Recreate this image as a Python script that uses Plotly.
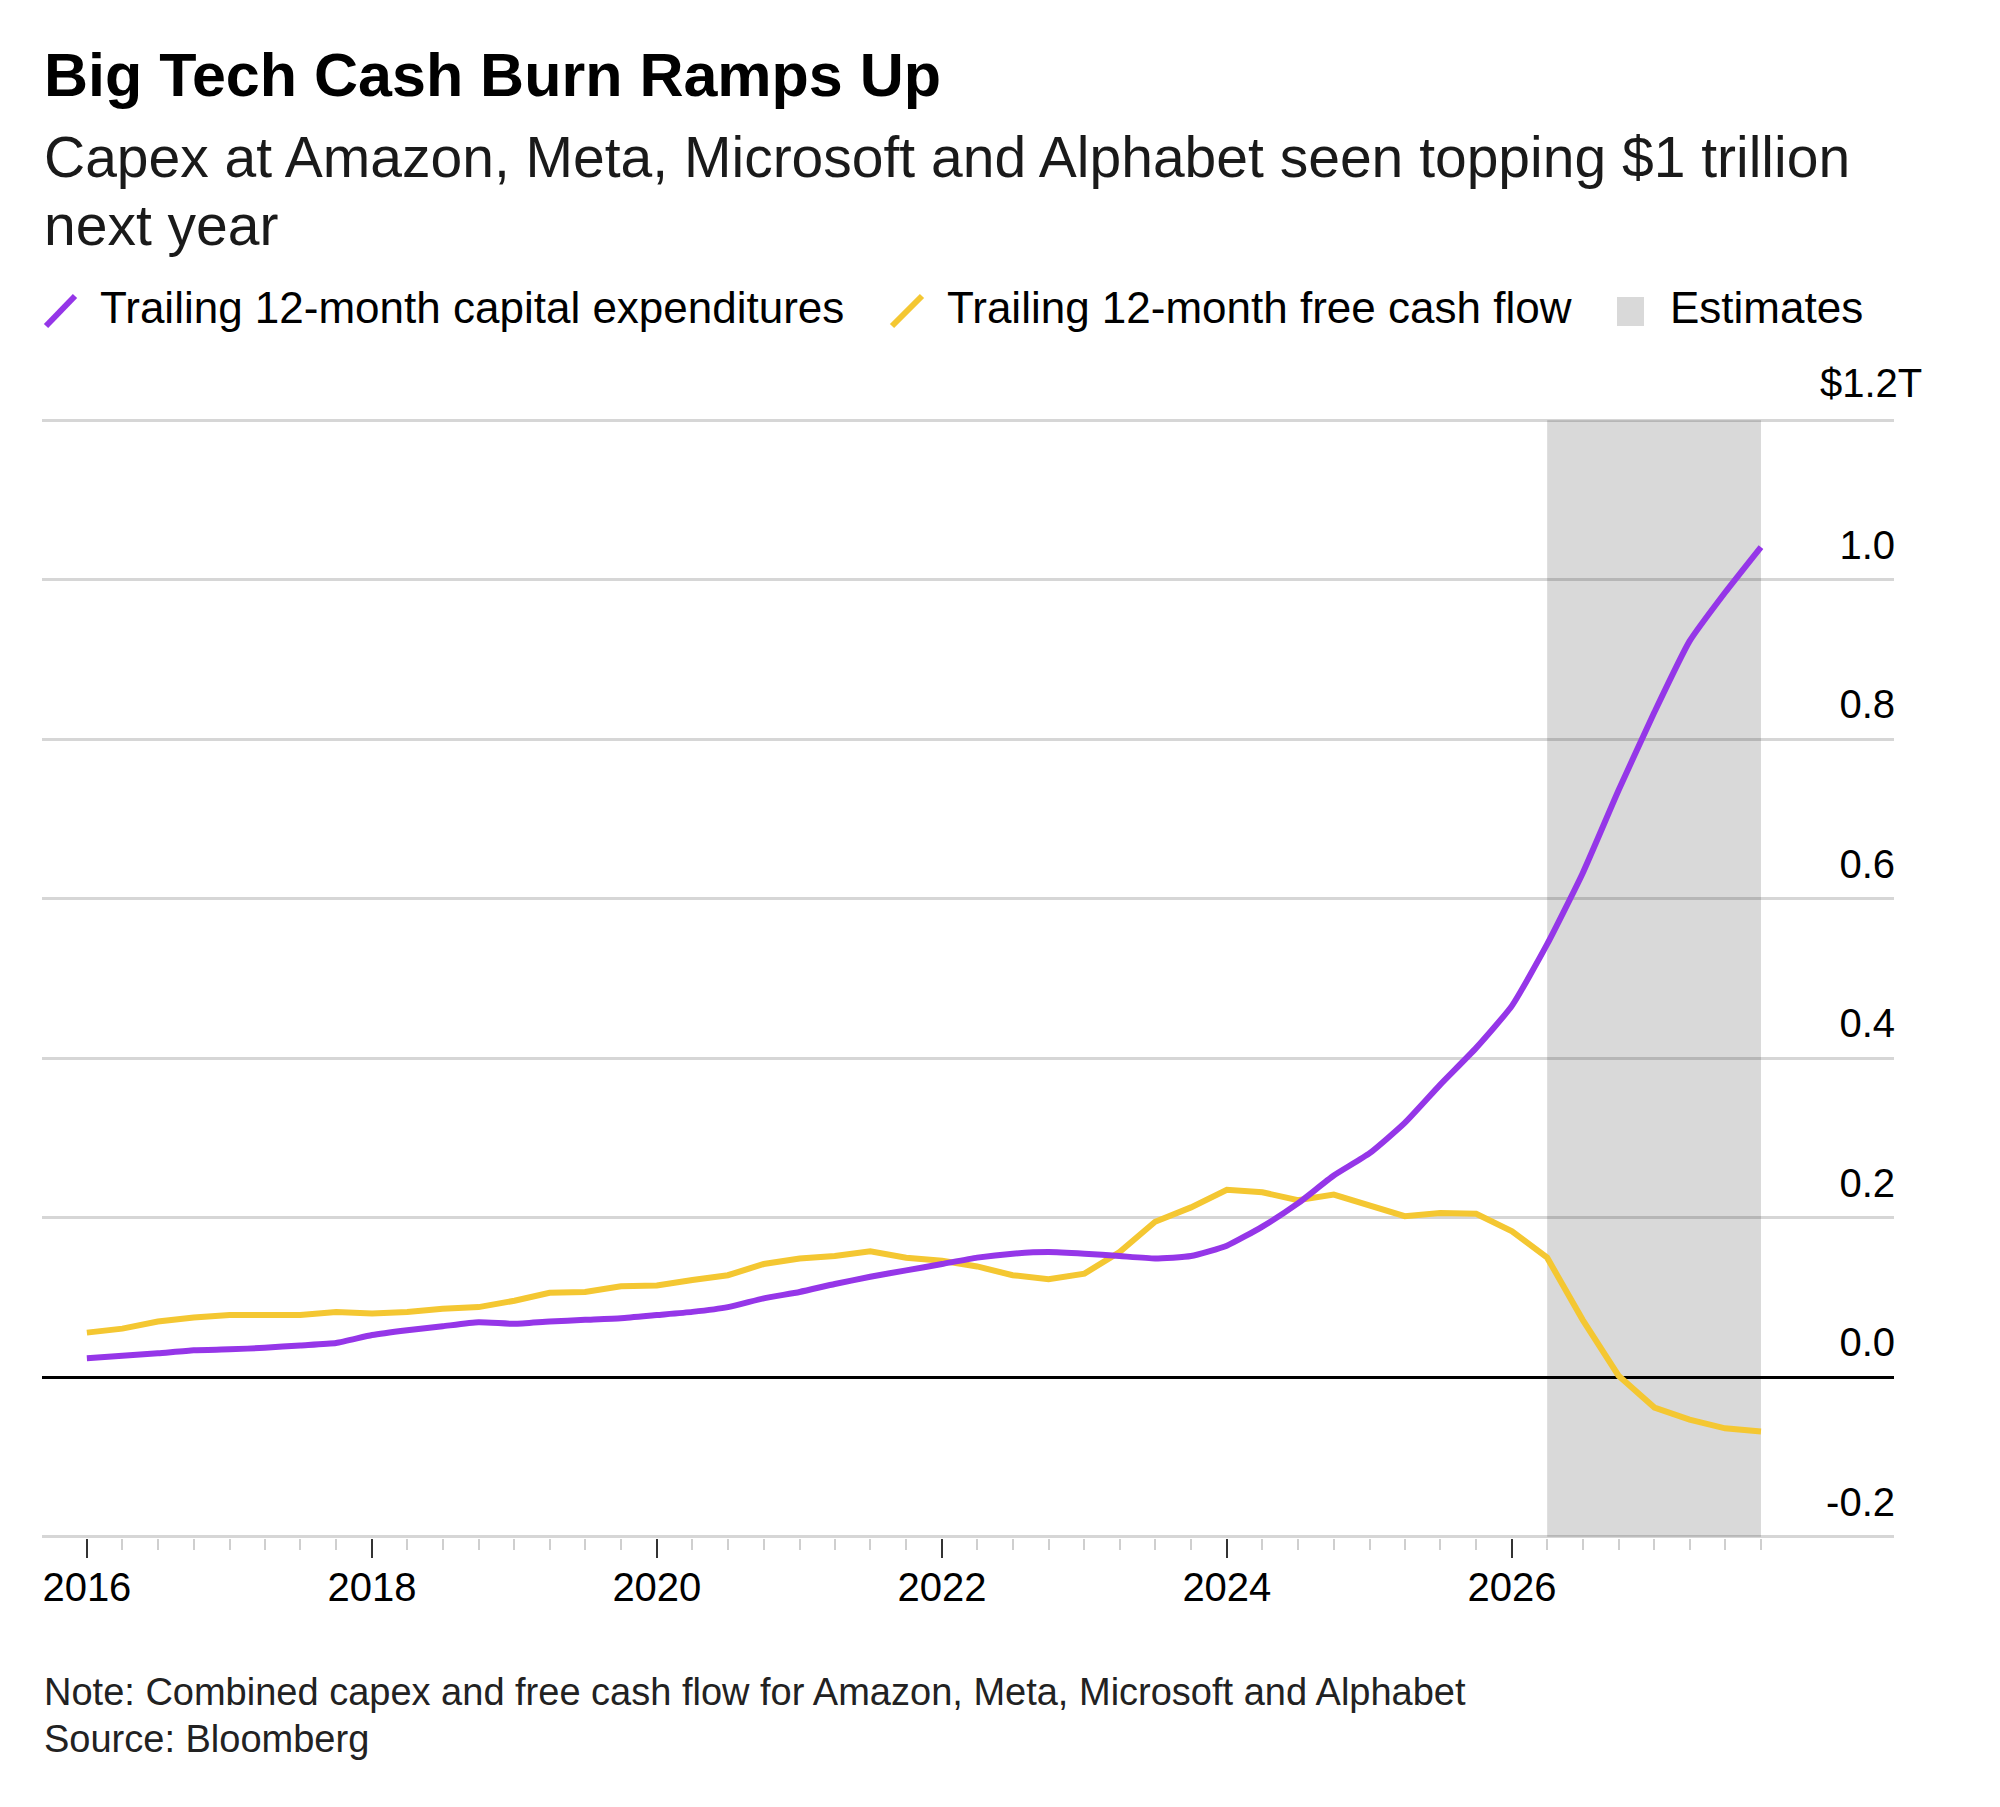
import plotly.graph_objects as go
import pandas as pd

# ---- data (trillions of USD, quarterly, Q1 2016 .. Q4 2027) ----
quarters = pd.date_range("2016-01-01", periods=48, freq="QS")

capex = [0.024, 0.027, 0.030, 0.034, 0.035, 0.037, 0.040, 0.043,
         0.053, 0.059, 0.064, 0.069, 0.067, 0.070, 0.072, 0.074,
         0.078, 0.082, 0.088, 0.099, 0.107, 0.117, 0.126, 0.134,
         0.142, 0.150, 0.155, 0.157, 0.155, 0.152, 0.149, 0.152,
         0.165, 0.189, 0.218, 0.253, 0.281, 0.319, 0.367, 0.413,
         0.466, 0.543, 0.632, 0.736, 0.834, 0.923, 0.984, 1.041]

fcf = [0.056, 0.061, 0.070, 0.075, 0.078, 0.078, 0.078, 0.082,
       0.080, 0.082, 0.086, 0.088, 0.096, 0.106, 0.107, 0.114,
       0.115, 0.122, 0.128, 0.142, 0.149, 0.152, 0.158, 0.150,
       0.146, 0.139, 0.128, 0.123, 0.130, 0.157, 0.195, 0.213,
       0.235, 0.232, 0.222, 0.229, 0.216, 0.202, 0.206, 0.205,
       0.183, 0.150, 0.072, 0.002, -0.038, -0.053, -0.064, -0.068]

est_start, est_end = "2026-04-01", "2027-10-01"

year_ticks = ["2016", "2018", "2020", "2022", "2024", "2026"]
y_ticks = [-0.2, 0.0, 0.2, 0.4, 0.6, 0.8, 1.0, 1.2]
y_labels = ["-0.2", "0.0", "0.2", "0.4", "0.6", "0.8", "1.0", ""]
top_label = "$1.2T"

series_names = ["Trailing 12-month capital expenditures",
                "Trailing 12-month free cash flow",
                "Estimates"]

PURPLE = "#9536e8"
YELLOW = "#f4c732"
SHADE = "#d9d9d9"
GRID = "rgba(0,0,0,0.16)"
FONT = "Liberation Sans, Arial, Helvetica, sans-serif"

W, H = 2000, 1807
L, R, T, B = 42, 106, 419, 269
PW, PH = W - L - R, H - T - B
EPS = 0.0015  # tiny padding so the edge grid lines are drawn in full


def px(x):
    return (x - L) / PW


def py(y):
    return (H - B - y) / PH


fig = go.Figure()
fig.add_trace(go.Scatter(x=quarters, y=fcf, mode="lines", name=series_names[1],
                         line=dict(color=YELLOW, width=6), showlegend=False))
fig.add_trace(go.Scatter(x=quarters, y=capex, mode="lines", name=series_names[0],
                         line=dict(color=PURPLE, width=6, shape="spline", smoothing=0.5),
                         showlegend=False))

# estimates band
fig.add_shape(type="rect", xref="x", yref="y", x0=est_start, x1=est_end,
              y0=y_ticks[0], y1=y_ticks[-1], fillcolor=SHADE, line_width=0, layer="below")

# custom legend
fig.add_shape(type="line", xref="paper", yref="paper", x0=px(46), y0=py(326), x1=px(75), y1=py(296),
              line=dict(color=PURPLE, width=6))
fig.add_shape(type="line", xref="paper", yref="paper", x0=px(892), y0=py(326), x1=px(922), y1=py(296),
              line=dict(color=YELLOW, width=6))
fig.add_shape(type="rect", xref="paper", yref="paper", x0=px(1617), y0=py(326), x1=px(1644), y1=py(297),
              fillcolor=SHADE, line_width=0)

ann = []


def text(x, yc, s, size, bold=False, anchor="left", color="#111111"):
    ann.append(dict(x=px(x), y=py(yc), xref="paper", yref="paper", text=(f"<b>{s}</b>" if bold else s),
                    showarrow=False, xanchor=anchor, yanchor="middle",
                    font=dict(family=FONT, size=size, color=color)))


text(42, 75, "Big Tech Cash Burn Ramps Up", 61, bold=True, color="#000000")
text(42, 157, "Capex at Amazon, Meta, Microsoft and Alphabet seen topping $1 trillion", 57, color="#1a1a1a")
text(42, 225, "next year", 57, color="#1a1a1a")
text(98, 308, series_names[0], 44, color="#000000")
text(945, 308, series_names[1], 44, color="#000000")
text(1668, 308, series_names[2], 44, color="#000000")
text(42, 1692, "Note: Combined capex and free cash flow for Amazon, Meta, Microsoft and Alphabet", 38,
     color="#222222")
text(42, 1739, "Source: Bloomberg", 38, color="#222222")
text(1924, 383, top_label, 40, anchor="right", color="#000000")

fig.update_layout(
    width=W, height=H,
    margin=dict(l=L, r=R, t=T, b=B, pad=0),
    paper_bgcolor="white", plot_bgcolor="white",
    annotations=ann,
    font=dict(family=FONT, size=40, color="#000000"),
    showlegend=False,
    xaxis=dict(
        range=["2015-09-08", "2028-09-06"],
        tickmode="array", tickvals=[f"{y}-01-01" for y in year_ticks], ticktext=year_ticks,
        ticks="outside", ticklen=19, tickwidth=2, tickcolor="#333333",
        ticklabelstandoff=-5,
        tickfont=dict(size=40, color="#000000"),
        showgrid=False, zeroline=False, showline=False,
        minor=dict(tickmode="array", tickvals=list(quarters), ticks="outside", ticklen=11,
                   tickwidth=2, tickcolor="#cfcfcf", showgrid=False),
    ),
    yaxis=dict(
        range=[y_ticks[0] - EPS, y_ticks[-1] + EPS], side="right",
        tickmode="array", tickvals=y_ticks, ticktext=y_labels,
        ticklabelposition="inside", ticklabelshift=-35, ticklabelstandoff=-4,
        ticks="", tickfont=dict(size=40, color="#000000"),
        showgrid=True, gridcolor=GRID, gridwidth=2.5,
        zeroline=True, zerolinecolor="#000000", zerolinewidth=2.5, showline=False,
    ),
)

fig.write_html("out.html", config={"displayModeBar": False},
               post_script="document.body.style.margin='0';")
